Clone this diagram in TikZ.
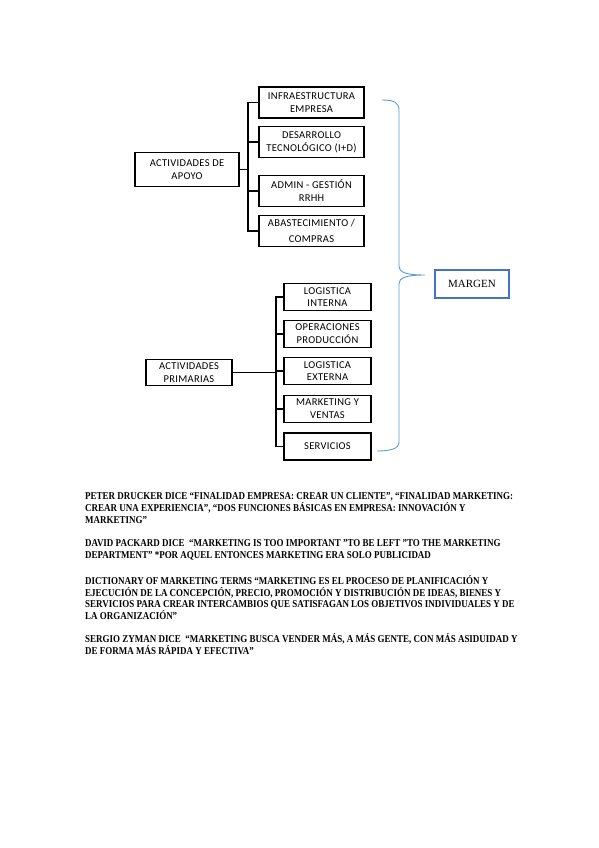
\documentclass[tikz,border=0pt]{standalone}
\usepackage{fontspec}
\setmainfont{Liberation Serif}
\newfontfamily\boxfont{Carlito}[LetterSpace=3]
\newfontfamily\bodyfont{Liberation Serif}[FakeStretch=0.855]
\definecolor{braceblue}{HTML}{5B9BD5}
\definecolor{margenblue}{HTML}{4472C4}
\tikzset{
  conn/.style={line width=1.4pt, draw=black, line join=miter},
  abox/.style={draw=black, line width=1.4pt, align=center, inner sep=1pt, fill=white,
    minimum width=105pt, minimum height=31pt,
    font=\boxfont\fontsize{10.5}{12.8}\selectfont},
  pbox/.style={abox, minimum width=87pt, minimum height=27pt},
  body/.style={anchor=north west, align=left, inner sep=0pt,
    font=\bodyfont\bfseries\fontsize{10.5}{11.8}\selectfont},
  bracepath/.style={draw=braceblue, line width=0.9pt},
}
\begin{document}
\begin{tikzpicture}[x=1pt,y=-1pt]
\fill[white] (0,0) rectangle (599,848);
\useasboundingbox (0,0) rectangle (599,848);

% --- Actividades de apoyo ---
\node[abox, minimum width=104pt, minimum height=34pt] (apoyo) at (187,169.5) {ACTIVIDADES DE\\APOYO};
\node[abox] (infra) at (311.5,102.5) {INFRAESTRUCTURA\\EMPRESA};
\node[abox] (desa) at (311.5,142) {DESARROLLO\\TECNOLÓGICO (I+D)};
\node[abox] (admin) at (311.5,191) {ADMIN - GESTIÓN\\RRHH};
\node[abox] (abas) at (311.5,231) {ABASTECIMIENTO /\\[3pt]COMPRAS};
\coordinate (tbus) at (248,0);
\draw[conn] (infra.west) -- (infra.west -| tbus) -- (abas.west -| tbus) -- (abas.west);
\draw[conn] (desa.west) -- (desa.west -| tbus);
\draw[conn] (admin.west) -- (admin.west -| tbus);
\draw[conn] (apoyo.east) -- (apoyo.east -| tbus);

% --- Actividades primarias ---
\node[pbox, minimum width=86pt, minimum height=26pt] (prim) at (189,372.5) {ACTIVIDADES\\PRIMARIAS};
\node[pbox] (li) at (327.5,297) {LOGISTICA\\INTERNA};
\node[pbox] (op) at (327.5,334) {OPERACIONES\\PRODUCCIÓN};
\node[pbox] (le) at (327.5,371) {LOGISTICA\\EXTERNA};
\node[pbox] (mv) at (327.5,409) {MARKETING Y\\VENTAS};
\node[pbox] (serv) at (327.5,446.5) {SERVICIOS};
\coordinate (pbus) at (276,0);
\draw[conn] (li.west) -- (li.west -| pbus) -- (serv.west -| pbus) -- (serv.west);
\draw[conn] (op.west) -- (op.west -| pbus);
\draw[conn] (le.west) -- (le.west -| pbus);
\draw[conn] (mv.west) -- (mv.west -| pbus);
\draw[conn] (prim.east) -- (prim.east -| pbus);

% --- Brace and MARGEN ---
\coordinate (btop) at (382,100);
\coordinate (bmid) at (425,275);
\coordinate (bbot) at (377,451);
\draw[bracepath] (btop) .. controls (393,100) and (399,102) .. (399,110) -- (399,266)
  .. controls (399,272) and (405,275) .. (bmid)
  .. controls (405,275) and (399,278) .. (399,284) -- (399,442)
  .. controls (399,449) and (390,451) .. (bbot);
\node[draw=margenblue, line width=1.5pt, minimum width=74pt, minimum height=28pt,
  inner sep=1pt, font=\fontsize{11}{13}\selectfont] (margen) at (472,284) {MARGEN};

% --- Body text ---
\node[body] (p1) at (85,491.5) {\rule{0pt}{8pt}PETER DRUCKER DICE “FINALIDAD EMPRESA: CREAR UN CLIENTE”, “FINALIDAD MARKETING:\\
CREAR UNA EXPERIENCIA”, “DOS FUNCIONES BÁSICAS EN EMPRESA: INNOVACIÓN Y\\
MARKETING”};
\node[body] (p2) at (85,538) {\rule{0pt}{8pt}DAVID PACKARD DICE\ \ “MARKETING IS TOO IMPORTANT ”TO BE LEFT ”TO THE MARKETING\\
DEPARTMENT” *POR AQUEL ENTONCES MARKETING ERA SOLO PUBLICIDAD};
\node[body] (p3) at (85,575) {\rule{0pt}{8pt}DICTIONARY OF MARKETING TERMS “MARKETING ES EL PROCESO DE PLANIFICACIÓN Y\\
EJECUCIÓN DE LA CONCEPCIÓN, PRECIO, PROMOCIÓN Y DISTRIBUCIÓN DE IDEAS, BIENES Y\\
SERVICIOS PARA CREAR INTERCAMBIOS QUE SATISFAGAN LOS OBJETIVOS INDIVIDUALES Y DE\\
LA ORGANIZACIÓN”};
\node[body] (p4) at (85,633) {\rule{0pt}{8pt}SERGIO ZYMAN DICE\ \ “MARKETING BUSCA VENDER MÁS, A MÁS GENTE, CON MÁS ASIDUIDAD Y\\
DE FORMA MÁS RÁPIDA Y EFECTIVA”};
\end{tikzpicture}
\end{document}
